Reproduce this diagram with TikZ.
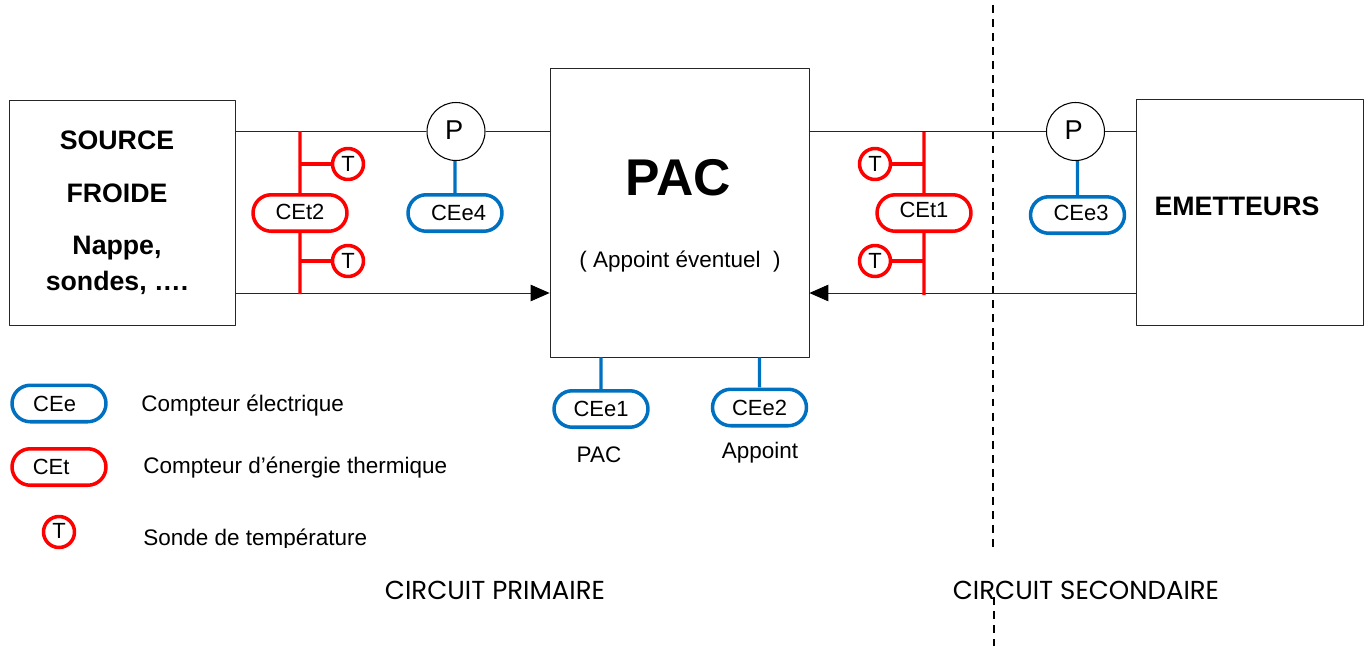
\documentclass[tikz,border=0pt]{standalone}
\usepackage{fontspec}
\setmainfont{Liberation Sans}
\newfontfamily\circuitfont{Poppins}
\usetikzlibrary{arrows.meta,shapes.misc}
\definecolor{bleu}{RGB}{0,112,192}
\definecolor{rouge}{RGB}{255,0,0}
\newcommand{\fs}[1]{\fontsize{#1}{#1}\selectfont}
\tikzset{
  boite/.style={draw=black!85,line width=0.45pt,inner sep=0pt},
  pompe/.style={circle,draw=black,line width=0.6pt,minimum size=1.16cm,inner sep=0pt,font=\fs{15.5}},
  sonde/.style={circle,draw=rouge,line width=2pt,minimum size=0.62cm,inner sep=0pt,font=\fs{12.5}},
  cee/.style={rounded rectangle,draw=bleu,line width=2pt,minimum width=1.88cm,minimum height=0.73cm,inner sep=0pt,font=\fs{12.5}},
  cet/.style={cee,draw=rouge},
  titre/.style={font=\fs{15.2}\bfseries,inner sep=0pt},
  texte/.style={font=\fs{12.8},inner sep=0pt},
  circuit/.style={font=\circuitfont\fs{14.8},inner sep=0pt},
  tuyau/.style={line width=0.5pt,draw=black!85},
  fil/.style={line width=1.9pt,draw=bleu},
  branche/.style={line width=1.9pt,draw=rouge},
  limite/.style={line width=0.9pt,dash pattern=on 4.5pt off 3.5pt}
}
\begin{document}
\begin{tikzpicture}[x=0.02cm,y=-0.02cm,>={Triangle[length=0.38cm,width=0.33cm,color=black]},line join=round]
  \useasboundingbox (0,0) rectangle (1367,646);
  % boites
  \node[boite,minimum width=4.52cm,minimum height=4.5cm] (source) at (122,212.5) {};
  \node[boite,minimum width=5.18cm,minimum height=5.78cm] (pac) at (679.5,212.5) {};
  \node[boite,minimum width=4.54cm,minimum height=4.52cm] (emet) at (1249.5,212) {};
  \node[titre] (t1) at (117,140) {SOURCE};
  \node[titre] (t2) at (117,193) {FROIDE};
  \node[titre] (t3) at (117,248) {Nappe,};
  \node[titre] (t4) at (117,283) {sondes, ….};
  \node[font=\fs{29.4}\bfseries,inner sep=0pt] (t5) at (678,178) {PAC};
  \node[texte] (t6) at (680,262) {( Appoint éventuel~ )};
  \node[titre] (t7) at (1237,206) {EMETTEURS};
  % limite primaire / secondaire
  \coordinate (lim1) at (993,5);
  \coordinate (lim2) at (993,553);
  \coordinate (lim3) at (994,597);
  \coordinate (lim4) at (994,646);
  \draw[limite] (lim1)--(lim2);
  \draw[limite] (lim3)--(lim4);
  % circuit
  \coordinate (retour) at (0,293);
  \node[pompe] (P1) at (456,131.5) {\hspace{-2pt}\raisebox{2pt}{P}};
  \node[pompe] (P2) at (1075.5,131.5) {\hspace{-2pt}\raisebox{2pt}{P}};
  \draw[tuyau] (P1 -| source.east)--(P1);
  \draw[tuyau] (P1)--(P1 -| pac.west);
  \draw[tuyau] (P2 -| pac.east)--(P2);
  \draw[tuyau] (P2)--(P2 -| emet.west);
  \draw[tuyau,->] (retour -| source.east)--(retour -| pac.west);
  \draw[tuyau,->] (retour -| emet.west)--(retour -| pac.east);
  % compteurs thermiques
  \coordinate (h2) at (300,131);
  \coordinate (b2) at (300,294);
  \coordinate (h1) at (924,132);
  \coordinate (b1) at (924,295);
  \node[cet] (CEt2) at (300,213) {\raisebox{1pt}{CEt2}};
  \node[cet] (CEt1) at (924,213) {\raisebox{4pt}{CEt1}};
  \node[sonde] (T1) at (348,164) {T};
  \node[sonde] (T2) at (348,261) {T};
  \node[sonde] (T3) at (875,164) {T};
  \node[sonde] (T4) at (875,261) {T};
  \draw[branche] (h2)--(CEt2);
  \draw[branche] (CEt2)--(b2);
  \draw[branche] (h1)--(CEt1);
  \draw[branche] (CEt1)--(b1);
  \draw[branche] (T1)--(T1 -| h2);
  \draw[branche] (T2)--(T2 -| h2);
  \draw[branche] (T3)--(T3 -| h1);
  \draw[branche] (T4)--(T4 -| h1);
  % compteurs electriques
  \node[cee] (CEe4) at (455,213) {\hspace{4pt}CEe4};
  \node[cee] (CEe3) at (1077.5,215) {\hspace{4pt}\raisebox{3pt}{CEe3}};
  \node[cee] (CEe1) at (601,409) {CEe1};
  \node[cee] (CEe2) at (759.5,407.5) {CEe2};
  \draw[fil] (CEe4 |- P1.south)--(CEe4);
  \draw[fil] (CEe3 |- P2.south)--(CEe3);
  \draw[fil] (CEe1 |- pac.south)--(CEe1);
  \draw[fil] (CEe2 |- pac.south)--(CEe2);
  \node[texte] (l1) at (599,455) {PAC};
  \node[texte] (l2) at (760,453) {Appoint};
  % legende
  \node[cee] (legE) at (59,403.5) {\hspace{-5pt}CEe};
  \node[cet] (legT) at (59,467) {\hspace{-9pt}CEt};
  \node[sonde] (legS) at (59,532) {\raisebox{1pt}{T}};
  \node[texte,anchor=west] (l3) at (141,406) {Compteur électrique};
  \node[texte,anchor=west] (l4) at (143,468) {Compteur d’énergie thermique};
  \begin{scope}
    \clip (130,520) rectangle (400,547);
    \node[texte,anchor=west] (l5) at (143,540) {Sonde de température};
  \end{scope}
  \node[circuit] (c1) at (495,590) {CIRCUIT PRIMAIRE};
  \node[circuit] (c2) at (1086,590) {CIRCUIT SECONDAIRE};
\end{tikzpicture}
\end{document}
